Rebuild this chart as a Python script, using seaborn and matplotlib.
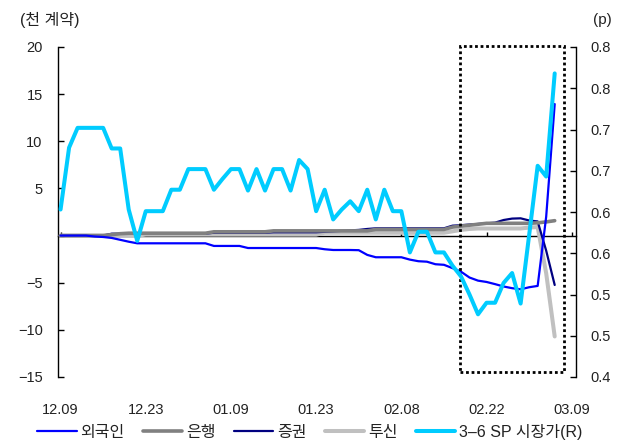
import numpy as np
import pandas as pd
import matplotlib
matplotlib.use("Agg")
import matplotlib.pyplot as plt
import seaborn as sns
from matplotlib.patches import Rectangle
from matplotlib.lines import Line2D

# ---------------- data ----------------
tick_labels = ["12.09", "12.23", "01.09", "01.23", "02.08", "02.22", "03.09"]
tick_index = [0, 10, 20, 30, 40, 50, 60]

foreign = [0.0, 0.0, 0.0, 0.0, -0.1, -0.15, -0.25, -0.45, -0.65, -0.82,
           -0.82, -0.82, -0.82, -0.82, -0.82, -0.82, -0.82, -0.82, -1.1, -1.1,
           -1.1, -1.1, -1.32, -1.32, -1.32, -1.32, -1.32, -1.32, -1.32, -1.32,
           -1.32, -1.45, -1.53, -1.53, -1.53, -1.55, -2.05, -2.3, -2.3, -2.3,
           -2.3, -2.55, -2.72, -2.77, -3.04, -3.1, -3.45, -3.83, -4.45, -4.78,
           -4.92, -5.15, -5.4, -5.58, -5.7, -5.48, -5.34, 2.0, 13.95]
bank = [0.0, 0.0, 0.0, 0.0, 0.0, 0.0, 0.1, 0.2, 0.25, 0.25,
        0.25, 0.25, 0.25, 0.25, 0.25, 0.25, 0.25, 0.25, 0.4, 0.4,
        0.4, 0.4, 0.4, 0.4, 0.4, 0.5, 0.5, 0.5, 0.5, 0.5,
        0.5, 0.5, 0.5, 0.5, 0.5, 0.5, 0.5, 0.65, 0.65, 0.65,
        0.65, 0.65, 0.65, 0.65, 0.65, 0.65, 0.9, 1.0, 1.1, 1.2,
        1.3, 1.3, 1.3, 1.3, 1.3, 1.3, 1.35, 1.45, 1.58]
securities = [0.0, 0.0, 0.0, 0.0, 0.0, 0.0, 0.2, 0.2, 0.2, 0.2,
              0.2, 0.2, 0.2, 0.2, 0.2, 0.2, 0.2, 0.2, 0.3, 0.3,
              0.3, 0.3, 0.3, 0.3, 0.3, 0.35, 0.35, 0.35, 0.35, 0.35,
              0.35, 0.4, 0.45, 0.5, 0.55, 0.6, 0.7, 0.77, 0.77, 0.77,
              0.77, 0.77, 0.77, 0.77, 0.77, 0.77, 1.05, 1.1, 1.17, 1.23,
              1.3, 1.37, 1.65, 1.8, 1.83, 1.6, 1.5, -1.6, -5.24]
trust = [0.0, 0.0, 0.0, 0.0, 0.0, 0.0, 0.0, 0.0, 0.0, 0.0,
         0.1, 0.1, 0.1, 0.1, 0.1, 0.1, 0.1, 0.1, 0.1, 0.1,
         0.1, 0.1, 0.1, 0.1, 0.1, 0.1, 0.1, 0.1, 0.1, 0.1,
         0.1, 0.3, 0.3, 0.3, 0.3, 0.3, 0.3, 0.3, 0.3, 0.3,
         0.3, 0.3, 0.3, 0.3, 0.3, 0.3, 0.45, 0.6, 0.7, 0.75,
         0.75, 0.75, 0.75, 0.75, 0.75, 0.85, 0.9, -4.0, -10.7]
sp_3_6 = [0.603, 0.678, 0.702, 0.702, 0.702, 0.702, 0.677, 0.677, 0.603, 0.565,
          0.601, 0.601, 0.601, 0.627, 0.627, 0.652, 0.652, 0.652, 0.627, 0.640,
          0.652, 0.652, 0.626, 0.652, 0.626, 0.652, 0.652, 0.626, 0.663, 0.652,
          0.601, 0.627, 0.591, 0.603, 0.613, 0.601, 0.627, 0.591, 0.627, 0.601,
          0.601, 0.551, 0.576, 0.576, 0.551, 0.551, 0.535, 0.522, 0.500, 0.476,
          0.490, 0.490, 0.514, 0.526, 0.489, 0.572, 0.656, 0.643, 0.768]

left_ticks = [20, 15, 10, 5, 0, -5, -10, -15]
left_labels = ["20", "15", "10", "5", "", "\u22125", "\u221210", "\u221215"]
right_ticks = [0.40, 0.45, 0.50, 0.55, 0.60, 0.65, 0.70, 0.75, 0.80]
right_labels = ["0.4", "0.5", "0.5", "0.6", "0.6", "0.7", "0.7", "0.8", "0.8"]

series_names = ["외국인", "은행", "증권", "투신"]
right_name = "3\u20136 SP 시장가(R)"
box_x = (46.9, 59.1)
box_y = (-14.5, 20.1)

# ---------------- style ----------------
sns.set_style("white")
plt.rcParams["font.family"] = ["Liberation Sans", "Noto Sans CJK KR", "DejaVu Sans"]
plt.rcParams["axes.unicode_minus"] = True

idx = np.arange(len(foreign))
df = pd.DataFrame({"idx": idx, "외국인": foreign, "은행": bank, "증권": securities,
                   "투신": trust, right_name: sp_3_6})

fig = plt.figure(figsize=(6.35, 4.42), dpi=100)
ax = fig.add_axes([58 / 635, 1 - 377 / 442, (576 - 58) / 635, (377 - 47) / 442])

styles = {
    "외국인": dict(color="#0000FF", lw=1.6),
    "은행": dict(color="#808080", lw=2.6),
    "증권": dict(color="#000080", lw=1.6),
    "투신": dict(color="#C0C0C0", lw=2.9),
}
draw_order = ["투신", "증권", "은행", "외국인"]
for name in draw_order:
    sns.lineplot(data=df, x="idx", y=name, ax=ax, color=styles[name]["color"],
                 lw=styles[name]["lw"], legend=False, zorder=3)

ax.set_xlim(-0.3, 60.5)
ax.set_ylim(-15, 20)
ax.set_xlabel("")
ax.set_ylabel("")
ax.set_yticks(left_ticks)
ax.set_yticklabels(left_labels)
ax.tick_params(axis="y", direction="in", length=4, width=1, pad=11, labelsize=10.5,
               labelcolor="#222222", color="black", left=True)
for s in ["top", "right"]:
    ax.spines[s].set_visible(False)
ax.spines["left"].set_color("black")
ax.spines["left"].set_linewidth(1)
ax.spines["bottom"].set_position(("data", 0))
ax.spines["bottom"].set_color("black")
ax.spines["bottom"].set_linewidth(1)
ax.spines["bottom"].set_zorder(2)
ax.set_xticks(tick_index)
ax.tick_params(axis="x", direction="in", length=3, width=1, labelbottom=False,
               bottom=True, color="black")

sec = ax.secondary_xaxis("bottom")
sec.set_xticks(tick_index)
sec.set_xticklabels(tick_labels)
sec.tick_params(length=0, pad=19, labelsize=10.5, labelcolor="#222222")
sec.spines["bottom"].set_visible(False)

ax2 = ax.twinx()
sns.lineplot(data=df, x="idx", y=right_name, ax=ax2, color="#00CCFF", lw=2.9,
             legend=False, zorder=4)
ax2.set_ylim(0.4, 0.8)
ax2.set_xlim(-0.3, 60.5)
ax2.set_ylabel("")
ax2.set_yticks(right_ticks)
ax2.set_yticklabels(right_labels)
ax2.tick_params(axis="y", direction="in", length=4, width=1, pad=10, labelsize=10.5,
                labelcolor="#222222", color="black", right=True)
for s in ["top", "left", "bottom"]:
    ax2.spines[s].set_visible(False)
ax2.spines["right"].set_color("black")
ax2.spines["right"].set_linewidth(1)

# highlight box (dotted)
rect = Rectangle((box_x[0], box_y[0]), box_x[1] - box_x[0], box_y[1] - box_y[0],
                 fill=False, edgecolor="black", lw=2.0, linestyle=(0, (1, 1)),
                 clip_on=False, zorder=5)
ax.add_patch(rect)

# unit labels
fig.text(20 / 635, 1 - 20 / 442, "(천 계약)", fontsize=11.5, color="#222222",
         ha="left", va="center")
fig.text(612 / 635, 1 - 20 / 442, "(p)", fontsize=11, color="#222222",
         ha="right", va="center")

# legend
handles = [Line2D([], [], color=styles[n]["color"], lw=styles[n]["lw"]) for n in series_names]
handles.append(Line2D([], [], color="#00CCFF", lw=2.9))
labels = series_names + [right_name]
fig.legend(handles, labels, loc="center", bbox_to_anchor=(310 / 635, 1 - 432 / 442),
           ncol=5, frameon=False, fontsize=11.5, handlelength=2.45, handletextpad=0.25,
           columnspacing=1.15, labelcolor="#222222", borderaxespad=0, borderpad=0)

fig.savefig("out.png", dpi=100)
